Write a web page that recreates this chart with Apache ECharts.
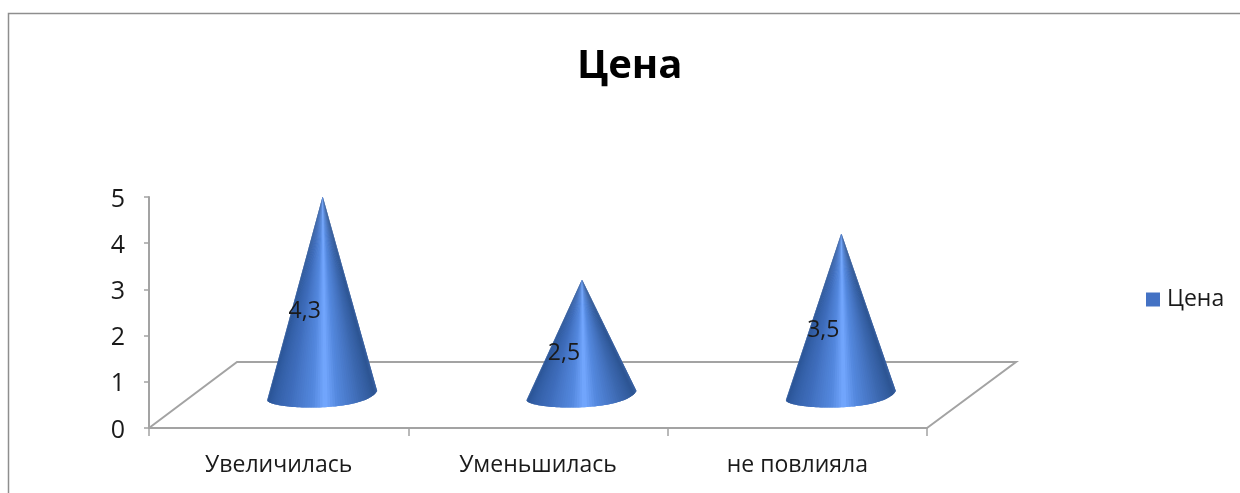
<!DOCTYPE html>
<html><head><meta charset="utf-8">
<style>html,body{margin:0;padding:0;background:#fff}#c{width:1240px;height:493px}</style>
<script src="https://cdn.jsdelivr.net/npm/echarts@6/dist/echarts.min.js"></script>
</head><body><div id="c"></div>
<script>
const categories = ['Увеличилась', 'Уменьшилась', 'не повлияла'];
const seriesName = 'Цена';
const values = [4.3, 2.5, 3.5];
const valueLabels = ['4,3', '2,5', '3,5'];
const yTicks = [0, 1, 2, 3, 4, 5];

const FONT = '"Open Sans","Noto Sans",sans-serif';
const AXIS = '#a3a3a3';
const DEPTH_X = 88, DEPTH_Y = -66;
const ramp = [[0,[62,104,170]],[.06,[42,84,150]],[.3,[62,108,186]],[.47,[84,136,222]],[.55,[116,168,255]],[.63,[84,136,222]],[.8,[60,104,176]],[.95,[44,84,146]],[1,[60,100,165]]];
function rampColor(t){
  for(let i=1;i<ramp.length;i++){
    if(t<=ramp[i][0]){
      const a=ramp[i-1],b=ramp[i],k=(t-a[0])/(b[0]-a[0]);
      return 'rgb('+a[1].map((v,j)=>Math.round(v+(b[1][j]-v)*k)).join(',')+')';
    }
  }
  return 'rgb('+ramp[ramp.length-1][1].join(',')+')';
}
function cubic(t,a,b,c,d){const u=1-t;return u*u*u*a+3*u*u*t*b+3*u*t*t*c+t*t*t*d;}

function renderCone(params, api){
  const idx = api.value(0), v = api.value(1);
  const top = api.coord([idx, v]);
  const base = api.coord([idx, 0]);
  const ox = DEPTH_X/2, oy = DEPTH_Y/2;
  const apex = [top[0]+ox, top[1]+oy];
  const cx = base[0]+ox-0.5, cy = base[1]+oy+0.5;
  const children = [];
  const N = 60;
  const pts = [];
  for(let i=0;i<=N;i++){
    const t=i/N;
    pts.push([cx+cubic(t,-55,-55,42,55), cy+cubic(t,4.5,14,18,-4.5)]);
  }
  // Each slice reaches two steps on, and the next slice paints over the overlap, so no seams show.
  for(let i=0;i<N;i++){
    const col = rampColor((i+.5)/N);
    const p=[apex,pts[i],pts[i+1]];
    if(i+2<=N) p.push(pts[i+2]);
    children.push({type:'polygon',shape:{points:p},style:{fill:col}});
  }
  const mid = api.coord([idx, v/2]);
  children.push({type:'text',z2:10,style:{
    text: valueLabels[idx], x: mid[0]+26, y: mid[1]-17, align:'center', verticalAlign:'middle',
    font:'23px '+FONT, fill:'#1a1a1a'}});
  return {type:'group',children};
}
function renderFloor(params, api){
  const s = params.coordSys;
  const fl=[s.x,s.y+s.height], fr=[s.x+s.width,s.y+s.height];
  const bl=[fl[0]+DEPTH_X,fl[1]+DEPTH_Y], br=[fr[0]+DEPTH_X+1,fr[1]+DEPTH_Y];
  return {type:'polyline',shape:{points:[fl,bl,br,fr]},style:{fill:null,stroke:AXIS,lineWidth:2}};
}

const chart = echarts.init(document.getElementById('c'),null,{renderer:'canvas'});
chart.setOption({
  animation:false,
  backgroundColor:'#fff',
  title:{text:seriesName,top:47,padding:0,left:577,
    textStyle:{fontFamily:FONT,fontSize:40,fontWeight:'bold',color:'#000'}},
  legend:{data:[seriesName],left:1141,top:283,orient:'vertical',itemWidth:14,itemHeight:14,itemGap:0,
    icon:'rect',textStyle:{fontFamily:FONT,fontSize:23,color:'#1a1a1a',padding:[0,0,0,2]}},
  grid:{left:149,right:313,top:197,bottom:65},
  xAxis:{type:'category',data:categories,
    axisLine:{lineStyle:{color:AXIS,width:2}},
    axisTick:{show:true,length:8,lineStyle:{color:AXIS,width:1.5}},
    axisLabel:{fontFamily:FONT,fontSize:23,color:'#1a1a1a',margin:26}},
  yAxis:{type:'value',min:yTicks[0],max:yTicks[yTicks.length-1],interval:1,
    axisLine:{show:true,lineStyle:{color:AXIS,width:2}},
    axisTick:{show:true,length:5,lineStyle:{color:AXIS,width:1.5}},
    splitLine:{show:false},
    axisLabel:{fontFamily:FONT,fontSize:25,color:'#1a1a1a',margin:24,verticalAlign:'top',padding:[-10,0,0,0]}},
  series:[
    {type:'custom',silent:true,legendHoverLink:false,z:1,data:[0],renderItem:renderFloor,clip:false},
    {type:'custom',name:seriesName,z:2,clip:false,itemStyle:{color:'#4472c4'},
     encode:{x:0,y:1},data:values.map((v,i)=>[i,v]),renderItem:renderCone}
  ],
  graphic:[{type:'polyline',silent:true,shape:{points:[[8.5,493],[8.5,13.5],[1240,13.5]]},
    style:{fill:null,stroke:'#8e8e8e',lineWidth:1.5}}]
});
</script></body></html>
